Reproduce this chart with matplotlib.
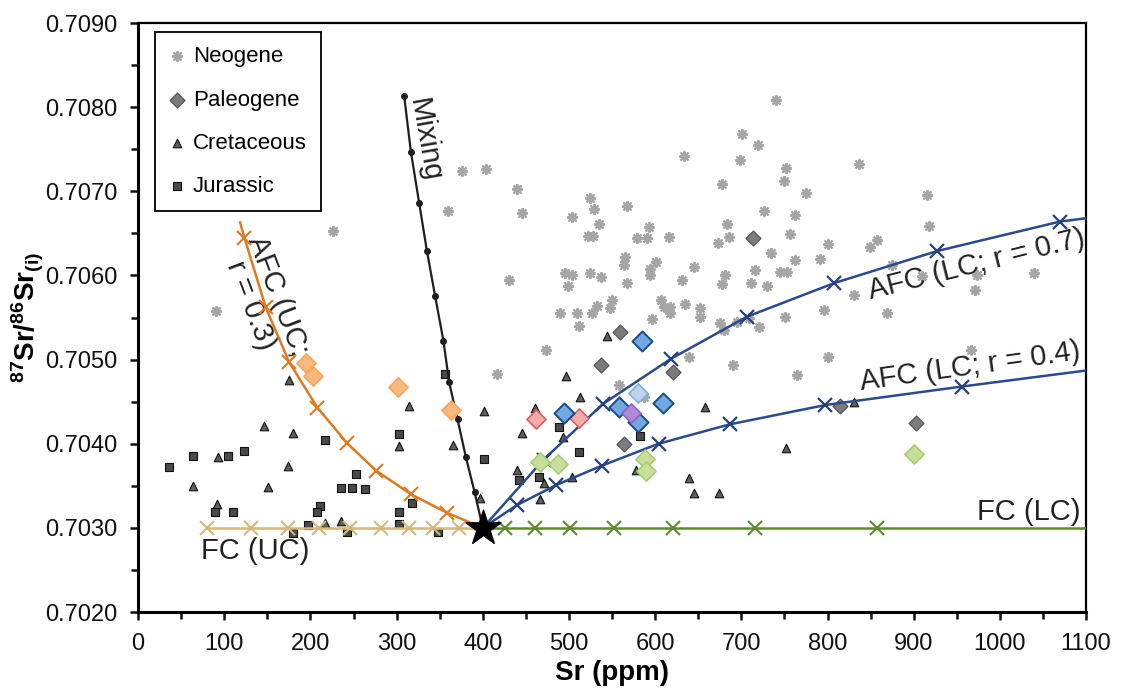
import numpy as np
import matplotlib.pyplot as plt
from matplotlib.ticker import FormatStrFormatter, MultipleLocator

plt.rcParams['font.family'] = ['Liberation Sans', 'DejaVu Sans']
plt.rcParams['mathtext.fontset'] = 'custom'
plt.rcParams['mathtext.rm'] = 'Liberation Sans'
plt.rcParams['mathtext.bf'] = 'Liberation Sans:bold'

# ---- sample data: Sr (ppm) and 87Sr/86Sr(i) ----
neo_sr = [375.8, 403.6, 439.6, 359.1, 445.8, 700.4, 633.0, 698.5, 719.4, 677.2,
          524.4, 528.6, 566.9, 503.5, 535.2, 522.1, 527.4, 592.4, 578.9, 590.6,
          615.6, 683.8, 685.7, 673.3, 565.4, 563.4, 601.3, 594.4, 594.4, 644.6,
          495.7, 503.5, 524.7, 537.1, 430.7, 681.5, 715.5, 740.7, 751.9, 749.1,
          775.1, 837.0, 915.1, 726.7, 761.9, 756.1, 917.9, 800.7, 734.9, 762.7,
          791.7, 849.8, 857.6, 745.3, 753.1, 875.0, 1039.4, 909.8, 973.6, 498.8,
          567.3, 631.2, 677.6, 711.6, 549.9, 532.5, 547.9, 489.9, 509.3, 526.7,
          512.0, 607.2, 609.8, 617.6, 617.6, 635.0, 652.4, 652.4, 596.4, 675.6,
          679.5, 695.0, 708.5, 473.6, 416.4, 638.8, 689.9, 558.4, 586.6, 729.9,
          830.4, 751.1, 796.4, 869.2, 970.9, 800.2, 764.7, 965.9, 720.1, 90.2,
          226.7]
neo_ratio = [0.70724, 0.70726, 0.70703, 0.70676, 0.70674, 0.70768, 0.70742, 0.70737, 0.70755, 0.70709,
             0.70692, 0.70679, 0.70683, 0.70670, 0.70661, 0.70647, 0.70647, 0.70657, 0.70644, 0.70644,
             0.70646, 0.70661, 0.70646, 0.70639, 0.70622, 0.70612, 0.70616, 0.70608, 0.70600, 0.70610,
             0.70603, 0.70600, 0.70603, 0.70598, 0.70595, 0.70601, 0.70607, 0.70809, 0.70728, 0.70712,
             0.70698, 0.70733, 0.70696, 0.70676, 0.70672, 0.70649, 0.70659, 0.70637, 0.70627, 0.70618,
             0.70619, 0.70634, 0.70642, 0.70604, 0.70604, 0.70612, 0.70603, 0.70599, 0.70600, 0.70588,
             0.70591, 0.70594, 0.70590, 0.70591, 0.70571, 0.70564, 0.70561, 0.70555, 0.70555, 0.70555,
             0.70540, 0.70571, 0.70563, 0.70563, 0.70555, 0.70566, 0.70561, 0.70551, 0.70548, 0.70544,
             0.70535, 0.70545, 0.70549, 0.70511, 0.70483, 0.70503, 0.70493, 0.70470, 0.70456, 0.70587,
             0.70577, 0.70551, 0.70559, 0.70555, 0.70583, 0.70503, 0.70482, 0.70511, 0.70539, 0.70558,
             0.70653]

pal_sr = [713.1, 559.6, 537.1, 620.7, 563.4, 815.0, 902.8]
pal_ratio = [0.70644, 0.70533, 0.70493, 0.70485, 0.70400, 0.70445, 0.70425]

cre_sr = [175.6, 314.6, 401.7, 146.3, 180.3, 303.3, 364.9, 93.2, 174.5, 63.5,
          150.6, 91.4, 397.0, 217.1, 235.3, 544.1, 496.9, 513.1, 460.9, 658.2,
          445.4, 493.0, 439.6, 471.3, 503.5, 577.8, 638.8, 751.9, 644.6, 673.7,
          465.9, 830.4]
cre_ratio = [0.70476, 0.70445, 0.70439, 0.70421, 0.70413, 0.70397, 0.70399, 0.70384, 0.70374, 0.70350,
             0.70348, 0.70328, 0.70335, 0.70306, 0.70308, 0.70528, 0.70480, 0.70456, 0.70442, 0.70444,
             0.70413, 0.70408, 0.70369, 0.70353, 0.70361, 0.70369, 0.70359, 0.70395, 0.70341, 0.70341,
             0.70334, 0.70449]

jur_sr = [36.0, 63.5, 104.1, 123.4, 217.1, 252.7, 235.3, 248.8, 263.5, 89.4,
          110.6, 211.3, 207.5, 303.0, 303.3, 356.4, 401.7, 318.4, 197.7, 180.3,
          242.3, 303.3, 347.9, 487.9, 582.0, 512.0, 441.5, 464.7]
jur_ratio = [0.70372, 0.70386, 0.70386, 0.70391, 0.70404, 0.70364, 0.70347, 0.70347, 0.70346, 0.70319,
             0.70319, 0.70326, 0.70319, 0.70319, 0.70411, 0.70483, 0.70382, 0.70330, 0.70304, 0.70294,
             0.70295, 0.70305, 0.70295, 0.70420, 0.70409, 0.70390, 0.70357, 0.70361]

# highlighted samples (coloured diamonds)
blue_sr = [584.7, 493.7, 557.6, 609.1, 579.6]
blue_ratio = [0.70522, 0.70437, 0.70444, 0.70448, 0.70426]
lblue_sr = [579.6]
lblue_ratio = [0.70460]
purple_sr = [572.3]
purple_ratio = [0.70436]
pink_sr = [462.0, 511.1]
pink_ratio = [0.70429, 0.70431]
orange_sr = [194.7, 202.8, 302.2, 363.0]
orange_ratio = [0.70496, 0.70480, 0.70468, 0.70440]
green_sr = [466.7, 487.2, 587.8, 589.7, 900.0]
green_ratio = [0.70378, 0.70376, 0.70382, 0.70368, 0.70388]

# ---- model curves ----
parent_sr, parent_ratio = 400, 0.7030

mix_sr = [308.8, 316.6, 326.2, 335.2, 344.8, 354.4, 361.0, 370.7, 380.4, 390.4, 400]
mix_ratio = [0.70813, 0.70747, 0.70686, 0.70629, 0.70575, 0.70522, 0.70473, 0.70429, 0.70384, 0.70343, 0.7030]

afc_uc_line_sr = [118.4, 123.4, 148.2, 175.3, 208.1, 242.3, 276.3, 316.6, 358.4, 400]
afc_uc_line_ratio = [0.70663, 0.70645, 0.70562, 0.70497, 0.70443, 0.70401, 0.70368, 0.70340, 0.70318, 0.7030]
afc_uc_tick_sr = [123.4, 148.2, 175.3, 208.1, 242.3, 276.3, 316.6, 358.4]
afc_uc_tick_ratio = [0.70645, 0.70562, 0.70497, 0.70443, 0.70401, 0.70368, 0.70340, 0.70318]

afc07_sr = [400, 470.5, 539.0, 618.4, 706.6, 808.0, 927.2, 1069.6, 1100]
afc07_ratio = [0.7030, 0.70381, 0.70447, 0.70501, 0.70551, 0.70591, 0.70629, 0.70664, 0.70668]
afc04_sr = [400, 439.6, 485.3, 538.3, 604.0, 686.4, 797.5, 956.2, 1100]
afc04_ratio = [0.7030, 0.70327, 0.70351, 0.70374, 0.70400, 0.70423, 0.70446, 0.70468, 0.70487]

fc_uc_sr = [79.8, 131.2, 174.5, 210.5, 246.1, 282.1, 314.6, 342.8, 372.7]
fc_lc_sr = [426.1, 460.9, 501.5, 551.8, 620.7, 716.3, 857.6]
fc_ratio = 0.7030

# ---- figure ----
fig = plt.figure(figsize=(11.25, 6.91), dpi=100)
ax = fig.add_axes([0.1227, 0.1143, 0.8427, 0.8524])

ax.scatter(neo_sr, neo_ratio, marker=(8, 2, 0), s=42, c='#a6a6a6', linewidths=1.6,
           label='Neogene', zorder=2)
ax.scatter(pal_sr, pal_ratio, marker='D', s=58, c='#7b7b7b', edgecolors='#505050',
           linewidths=0.8, label='Paleogene', zorder=3)
ax.scatter(cre_sr, cre_ratio, marker='^', s=38, c='#5e5e5e', edgecolors='#111111',
           linewidths=0.8, label='Cretaceous', zorder=3)
ax.scatter(jur_sr, jur_ratio, marker='s', s=32, c='#4a4a4a', edgecolors='#111111',
           linewidths=0.8, label='Jurassic', zorder=3)

# model lines
ax.plot([79.8, parent_sr], [fc_ratio, fc_ratio], color='#d6b778', lw=1.8, zorder=4)
ax.plot(fc_uc_sr, [fc_ratio] * len(fc_uc_sr), ls='none', marker='x', ms=10, mew=1.5,
        color='#d6b778', zorder=4)
ax.plot([parent_sr, 1100], [fc_ratio, fc_ratio], color='#5d8b2c', lw=1.8, zorder=4)
ax.plot(fc_lc_sr, [fc_ratio] * len(fc_lc_sr), ls='none', marker='x', ms=10, mew=1.5,
        color='#5d8b2c', zorder=4)

ax.plot(afc_uc_line_sr, afc_uc_line_ratio, color='#df7a1f', lw=1.8, zorder=4)
ax.plot(afc_uc_tick_sr, afc_uc_tick_ratio, ls='none', marker='x', ms=10, mew=1.5,
        color='#df7a1f', zorder=4)

ax.plot(afc07_sr, afc07_ratio, color='#2b4a8b', lw=1.8, zorder=4)
ax.plot(afc07_sr[1:-1], afc07_ratio[1:-1], ls='none', marker='x', ms=10, mew=1.6,
        color='#24427f', zorder=4)
ax.plot(afc04_sr, afc04_ratio, color='#2b4a8b', lw=1.8, zorder=4)
ax.plot(afc04_sr[1:-1], afc04_ratio[1:-1], ls='none', marker='x', ms=10, mew=1.6,
        color='#24427f', zorder=4)

ax.plot(mix_sr, mix_ratio, color='#1e1e1e', lw=1.6, marker='o', ms=4, zorder=4)

# highlighted samples
ax.scatter(orange_sr, orange_ratio, marker='D', s=95, c='#f8b97c', edgecolors='#f3a55c',
           linewidths=1.2, zorder=5)
ax.scatter(green_sr, green_ratio, marker='D', s=95, c='#c6e09a', edgecolors='#a9cd72',
           linewidths=1.2, zorder=5)
ax.scatter(pink_sr, pink_ratio, marker='D', s=95, c='#f3aaa8', edgecolors='#cf6363',
           linewidths=1.2, zorder=5)
ax.scatter(blue_sr, blue_ratio, marker='D', s=105, c='#70a9e0', edgecolors='#1f4a8a',
           linewidths=1.4, zorder=5)
ax.scatter(lblue_sr, lblue_ratio, marker='D', s=95, c='#bcd3ec', edgecolors='#86aed6',
           linewidths=1.2, zorder=5)
ax.scatter(purple_sr, purple_ratio, marker='D', s=95, c='#b28ad9', edgecolors='#8e62c2',
           linewidths=1.2, zorder=5)

ax.scatter([parent_sr], [parent_ratio], marker='*', s=700, c='black', zorder=6)

# curve labels
txt = dict(fontsize=21, color='#222222', rotation_mode='anchor', ha='center', va='center')
ax.text(333.2, 0.70761, 'Mixing', rotation=-80, **txt)
ax.text(146.5, 0.70570, 'AFC (UC;\nr = 0.3)', rotation=-69, multialignment='center',
        linespacing=1.0, **txt)
ax.text(972.8, 0.70613, 'AFC (LC; r = 0.7)', rotation=14, **txt)
ax.text(965.9, 0.70492, 'AFC (LC; r = 0.4)', rotation=8, **txt)
ax.text(1033.2, 0.70319, 'FC (LC)', **txt)
ax.text(136.4, 0.70273, 'FC (UC)', **txt)

# axes styling
ax.set_xlim(0, 1100)
ax.set_ylim(0.7020, 0.7090)
ax.set_xticks(np.arange(0, 1101, 100))
ax.xaxis.set_minor_locator(MultipleLocator(50))
ax.set_yticks([0.7020, 0.7030, 0.7040, 0.7050, 0.7060, 0.7070, 0.7080, 0.7090])
ax.yaxis.set_minor_locator(MultipleLocator(0.0005))
ax.yaxis.set_major_formatter(FormatStrFormatter('%.4f'))
ax.tick_params(which='major', direction='out', length=6, width=1.8, labelsize=17,
               pad=9, colors='#111111')
ax.tick_params(which='minor', direction='out', length=5, width=1.8, colors='#111111')
ax.tick_params(top=False, right=False, which='both')
for side in ['left', 'bottom']:
    ax.spines[side].set_linewidth(2.2)
for side in ['top', 'right']:
    ax.spines[side].set_linewidth(1.6)

ax.set_xlabel('Sr (ppm)', fontsize=20, fontweight='bold', labelpad=4)
ax.set_ylabel(r'$\mathbf{^{87}Sr/^{86}Sr_{(i)}}$', fontsize=20)
ax.yaxis.set_label_coords(-0.097, 0.5)

leg = ax.legend(loc='upper left', bbox_to_anchor=(0.018, 0.985), borderaxespad=0,
                fontsize=16, frameon=True, fancybox=False, edgecolor='black',
                framealpha=1, handlelength=0.7, handletextpad=0.35, labelspacing=1.0,
                borderpad=0.65, scatterpoints=1)
leg.get_frame().set_linewidth(1.3)
leg.set_zorder(10)

fig.savefig('out.png', dpi=100)
